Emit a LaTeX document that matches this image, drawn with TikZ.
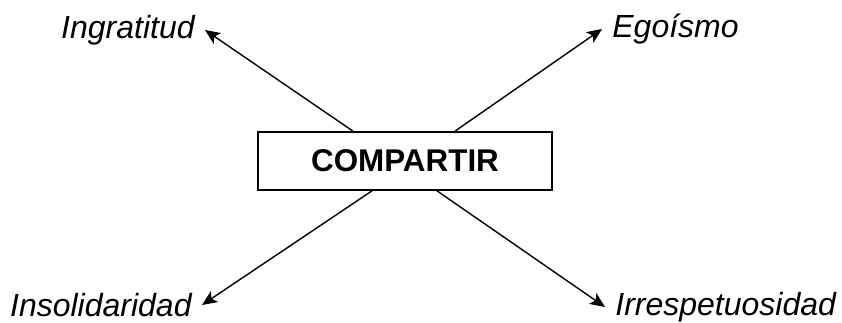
\documentclass[tikz,border=0pt]{standalone}
\usepackage{fontspec}
\setmainfont{Liberation Sans}
\usepackage{tikz}
\usetikzlibrary{positioning,arrows.meta}

\begin{document}
\begin{tikzpicture}[x=0.5pt,y=0.5pt,
 mainbox/.style={draw=black,line width=0.85pt,minimum width=147pt,minimum height=29pt,
 font=\bfseries\fontsize{15.7}{18}\selectfont,inner sep=2pt},
 valor/.style={font=\itshape\fontsize{16}{19}\selectfont,inner xsep=5pt,inner ysep=0pt},
 arr/.style={-{Stealth[length=7.5pt,width=6.5pt,inset=1.8pt]},line width=0.7pt}]
\useasboundingbox (0,0) rectangle (842,322);
\node[mainbox] (comp) at (405,161) {COMPARTIR};
\node[valor,anchor=east] (ingr) at (205,292) {Ingratitud};
\node[valor,anchor=west] (ego) at (602,293) {Egoísmo};
\node[valor,anchor=east] (insol) at (202,17) {Insolidaridad};
\node[valor,anchor=west] (irresp) at (605,15) {Irrespetuosidad};
\draw[arr] ([xshift=-26pt]comp.north) -- (ingr.east);
\draw[arr] ([xshift=25pt]comp.north) -- (ego.west);
\draw[arr] ([xshift=-16.5pt]comp.south) -- (insol.east);
\draw[arr] ([xshift=16pt]comp.south) -- (irresp.west);
\end{tikzpicture}
\end{document}
